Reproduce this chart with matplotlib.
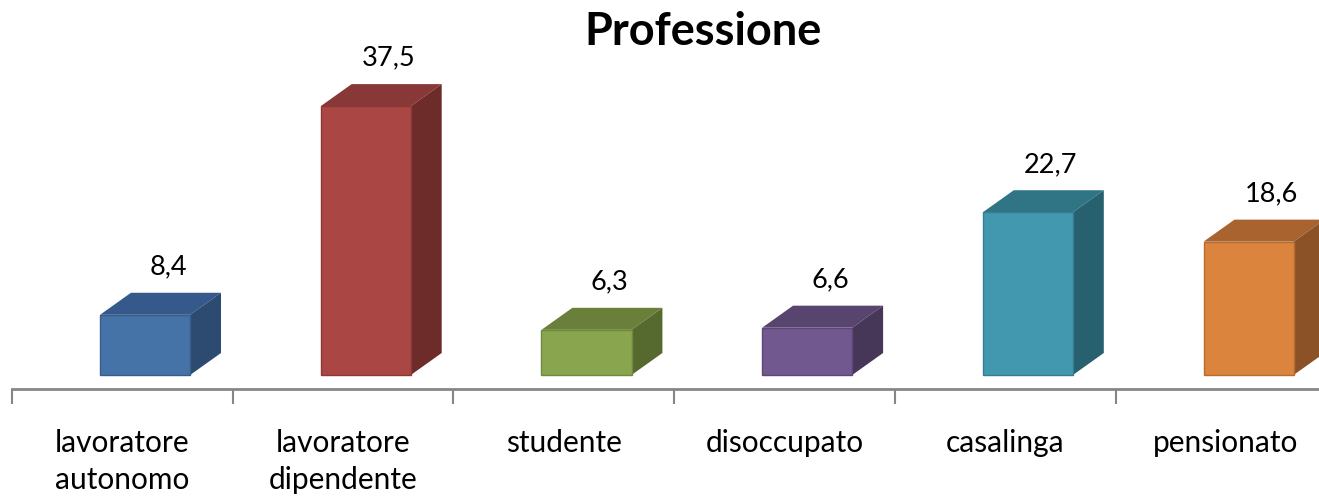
import matplotlib.pyplot as plt
import matplotlib as mpl

mpl.rcParams['font.family'] = ['Lato', 'DejaVu Sans']

# ── Dati ──────────────────────────────────────────────────────────────────────
categorie = ['lavoratore\nautonomo', 'lavoratore\ndipendente', 'studente',
             'disoccupato', 'casalinga', 'pensionato']
valori = [8.4, 37.5, 6.3, 6.6, 22.7, 18.6]
etichette = ['8,4', '37,5', '6,3', '6,6', '22,7', '18,6']

# colori: fronte, sopra, lato
col_fronte = ['#4572A7', '#AA4643', '#89A54E', '#71588F', '#4198AF', '#DB843D']
col_sopra = ['#35598A', '#883836', '#6A803A', '#574570', '#2F7585', '#A8632E']
col_lato = ['#2D4A70', '#6D2B2A', '#56692E', '#463758', '#27606E', '#8B5228']
col_bordo = ['#385D8A', '#8C3836', '#71893F', '#5C4776', '#357D91', '#B66D31']

# ── Geometria 3D (unità dati) ─────────────────────────────────────────────────
off_x = 0.399     # inizio faccia frontale dal bordo categoria
larg = 0.408      # larghezza faccia frontale
dx = 0.140        # profondità orizzontale
dy = 3.07         # profondità verticale

W, H = 1319, 497
fig = plt.figure(figsize=(W / 100, H / 100), dpi=100)
ax = fig.add_axes([12 / W, (H - 389) / H, (W - 12) / W, 389 / H])

for i, v in enumerate(valori):
    l = i - 0.5 + off_x
    r = l + larg
    # faccia frontale
    ax.bar(l, v, width=larg, align='edge', color=col_fronte[i],
           edgecolor=col_bordo[i], linewidth=1.0, zorder=3)
    # faccia superiore
    ax.fill([l, r, r + dx, l + dx], [v, v, v + dy, v + dy],
            color=col_sopra[i], zorder=2, linewidth=0)
    # faccia laterale
    ax.fill([r, r + dx, r + dx, r], [0, dy, v + dy, v],
            color=col_lato[i], zorder=2, linewidth=0)
    ax.text(l + larg / 2 + 0.104, v + dy + 3.6, etichette[i],
            ha='center', va='center', fontsize=19.5, color='#000000')

# ── Assi ──────────────────────────────────────────────────────────────────────
for s in ['top', 'right', 'left']:
    ax.spines[s].set_visible(False)
ax.spines['bottom'].set_color('#868686')
ax.spines['bottom'].set_linewidth(2)
ax.set_yticks([])
ax.set_xticks(range(len(categorie)))
ax.set_xticklabels(categorie, fontsize=21.5, linespacing=1.38)
ax.tick_params(axis='x', length=0, pad=29)
ax.set_xticks([i - 0.5 for i in range(len(categorie) + 1)], minor=True)
ax.tick_params(axis='x', which='minor', length=11, width=1.5, color='#868686',
               direction='out')

# limiti dopo i tick (set_xticks allarga la vista)
ax.set_xlim(-0.5, -0.5 + (W - 12) / 220.7)
ax.set_ylim(-14 / 7.17, 375 / 7.17)

fig.text(703 / W, 1 - 32 / H, 'Professione', ha='center', va='center',
         fontsize=32.5, fontweight='bold')

fig.savefig('out.png', dpi=100)
